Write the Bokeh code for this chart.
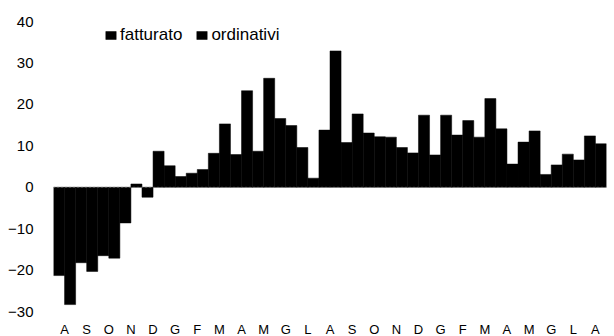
from bokeh.plotting import figure
from bokeh.models import ColumnDataSource, FixedTicker, Legend, LegendItem, Span, Range1d
from bokeh.core.properties import value
from bokeh.embed import file_html
from bokeh.resources import INLINE

months = ["A", "S", "O", "N", "D", "G", "F", "M", "A", "M", "G", "L",
          "A", "S", "O", "N", "D", "G", "F", "M", "A", "M", "G", "L", "A"]
fatturato = [-21.3, -18.2, -16.5, -8.6, -2.4, 5.2, 3.4, 8.2, 7.9, 8.7, 16.6, 9.6,
             13.8, 10.8, 13.1, 12.1, 8.3, 7.8, 12.6, 12.1, 14.1, 10.9, 3.1, 8.0, 12.4]
ordinativi = [-28.3, -20.3, -17.1, 0.8, 8.7, 2.6, 4.3, 15.3, 23.3, 26.3, 14.9, 2.2,
              32.9, 17.7, 12.2, 9.6, 17.4, 17.4, 16.1, 21.4, 5.6, 13.6, 5.4, 6.6, 10.5]
y_ticks = [-30, -20, -10, 0, 10, 20, 30, 40]

idx = list(range(len(months)))
y_min, y_max = -36.0, 45.07

src = ColumnDataSource(data=dict(
    x=idx,
    xf=[i - 0.25 for i in idx],
    xo=[i + 0.25 for i in idx],
    fatturato=fatturato,
    ordinativi=ordinativi,
    month=months,
    ylab=[y_min] * len(months),
))

p = figure(width=614, height=336, output_backend="svg", toolbar_location=None,
           x_range=Range1d(-0.5, len(months) - 0.5), y_range=Range1d(y_min, y_max),
           min_border_left=53, min_border_right=8, min_border_top=0, min_border_bottom=0)

p.xaxis.visible = False
p.xgrid.visible = False
p.ygrid.visible = False
p.outline_line_color = None
p.background_fill_color = "white"
p.border_fill_color = "white"

ya = p.yaxis[0]
ya.ticker = FixedTicker(ticks=y_ticks)
ya.axis_line_color = None
ya.major_tick_line_color = None
ya.minor_tick_line_color = None
ya.major_label_standoff = 14
ya.major_label_text_font = "Liberation Sans"
ya.major_label_text_font_size = "15px"
ya.major_label_text_color = "black"

zero = Span(location=0, dimension="width", line_color="#888888", line_width=1, line_dash="1 3")
p.add_layout(zero)

rf = p.vbar(x="xf", top="fatturato", bottom=0, width=0.5, source=src,
            fill_color="black", line_color="black", line_width=0.5)
ro = p.vbar(x="xo", top="ordinativi", bottom=0, width=0.5, source=src,
            fill_color="black", line_color="black", line_width=0.5)

p.text(x="x", y="ylab", text="month", source=src, text_align="center", text_baseline="bottom",
       text_font=value("Liberation Sans"), text_font_size="13px", text_color="black")

legend = Legend(items=[LegendItem(label="fatturato", renderers=[rf]),
                       LegendItem(label="ordinativi", renderers=[ro])],
                orientation="horizontal", location=(51, 291))
legend.padding = 0
legend.margin = 0
legend.spacing = 13
legend.glyph_width = 13
legend.glyph_height = 10
legend.label_standoff = 3
legend.label_text_font = "Liberation Sans"
legend.label_text_font_size = "17px"
legend.label_text_color = "black"
legend.border_line_alpha = 0
legend.background_fill_alpha = 0
p.add_layout(legend)

open("out.html", "w").write(file_html(p, INLINE))
